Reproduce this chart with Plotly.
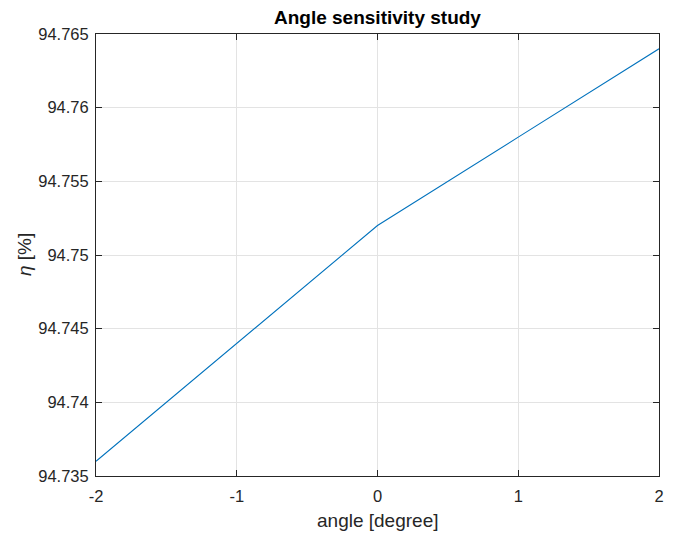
import plotly.graph_objects as go

angle = [-2, -1, 0, 1, 2]
eta = [94.736, 94.744, 94.752, 94.758, 94.764]

x_ticks = [-2, -1, 0, 1, 2]
x_ticklabels = ["-2", "-1", "0", "1", "2"]
y_ticks = [94.735, 94.74, 94.745, 94.75, 94.755, 94.76, 94.765]
y_ticklabels = ["94.735", "94.74", "94.745", "94.75", "94.755", "94.76", "94.765"]

# page body has an 8px margin offset; size the figure so it ends at the window edge
W, H = 666, 526
L, R, T, B = 88, 15, 26, 58

FONT = "Liberation Sans, Arial, Helvetica, sans-serif"

fig = go.Figure()
fig.add_trace(go.Scatter(x=angle, y=eta, mode="lines",
                         line=dict(color="#0072BD", width=1.1),
                         showlegend=False, hoverinfo="skip"))

axis_common = dict(
    showgrid=True, gridcolor="#e3e3e3", gridwidth=1,
    showline=True, linecolor="#262626", linewidth=1, mirror="ticks",
    ticks="inside", ticklen=6, tickcolor="#262626", tickwidth=1,
    zeroline=False,
    tickfont=dict(family=FONT, size=16.5, color="#262626"),
)

fig.update_layout(
    width=W, height=H,
    margin=dict(l=L, r=R, t=T, b=B, autoexpand=False),
    paper_bgcolor="white", plot_bgcolor="white",
    font=dict(family=FONT, color="#262626"),
    xaxis=dict(range=[-2, 2], tickmode="array", tickvals=x_ticks, ticktext=x_ticklabels,
               ticklabelstandoff=5, **axis_common),
    yaxis=dict(range=[94.735, 94.765], tickmode="array", tickvals=y_ticks, ticktext=y_ticklabels,
               ticklabelstandoff=3, **axis_common),
    annotations=[
        dict(text="<b>Angle sensitivity study</b>", xref="paper", yref="paper",
             x=0.5, y=1, yshift=17, xanchor="center", yanchor="middle", showarrow=False,
             font=dict(size=19, color="black", family=FONT)),
        dict(text="angle [degree]", xref="paper", yref="paper",
             x=0.5, y=0, yshift=-44, xanchor="center", yanchor="middle", showarrow=False,
             font=dict(size=19, color="#262626", family=FONT)),
        dict(text="<i>η</i> [%]", xref="paper", yref="paper",
             x=0, y=0.5, xshift=-72, xanchor="center", yanchor="middle", showarrow=False,
             textangle=-90, font=dict(size=19, color="#262626", family=FONT)),
    ],
)

fig.write_html("out.html")
